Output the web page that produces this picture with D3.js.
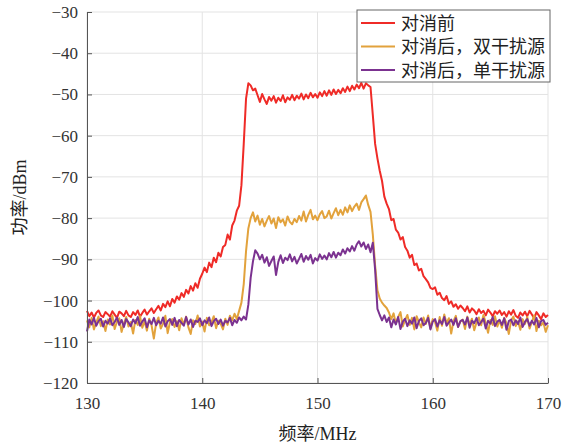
<!DOCTYPE html>
<html>
<head>
<meta charset="utf-8">
<script src="https://cdn.jsdelivr.net/npm/d3@7"></script>
<style>
  body { margin: 0; background: #fff; }
  .tick text { font-family: "Liberation Serif", serif; font-size: 17px; fill: #333; }
</style>
</head>
<body>
<div id="chart"></div>
<script>
// sampling grid of the spectrum (MHz)
var freqStart = 130;
var freqStep = 0.2;

var xTicks = [130, 140, 150, 160, 170];
var yTicks = [-120, -110, -100, -90, -80, -70, -60, -50, -40, -30];

var seriesNames = ["对消前", "对消后，双干扰源", "对消后，单干扰源"];
var seriesColors = ["#ef2b27", "#e2a23c", "#7b3290"];

// 对消前 (dBm)
var before = [
  -102.5, -103.8, -102.9, -104.1, -103.0, -102.4, -103.6, -104.0, -102.8, -103.3,
  -103.9, -102.6, -103.4, -104.2, -102.7, -103.1, -103.8, -102.5, -103.6, -104.0,
  -102.8, -103.5, -102.4, -103.9, -103.0, -102.2, -103.4, -102.6, -101.9, -103.0,
  -102.1, -101.3, -102.4, -100.8, -101.6, -100.2, -101.4, -99.6, -100.5, -99.0,
  -99.8, -98.2, -99.1, -97.4, -98.3, -96.5, -97.6, -95.8, -96.9, -94.7,
  -93.5, -92.0, -93.1, -90.8, -91.9, -89.6, -90.7, -88.4, -89.3, -87.0,
  -86.5, -84.0, -85.2, -81.8, -80.6, -78.2, -77.0, -72.0, -62.0, -51.0,
  -47.3, -47.8, -49.0, -48.6, -50.2, -51.8, -49.9, -51.2, -52.3, -50.6,
  -51.5, -50.4, -52.0, -50.8, -51.6, -50.2, -51.9, -50.7, -51.3, -50.1,
  -51.4, -50.3, -51.0, -49.8, -51.2, -50.0, -50.9, -49.6, -50.7, -49.9,
  -50.8, -49.5, -50.4, -49.2, -50.3, -49.0, -50.1, -48.8, -49.9, -48.9,
  -49.7, -48.5, -49.4, -48.1, -49.2, -47.9, -48.8, -47.6, -48.5, -47.2,
  -48.6, -47.3, -47.8, -48.2, -55.0, -62.0, -65.5, -68.5, -71.0, -74.8,
  -76.5, -77.8, -80.5, -80.2, -82.8, -83.5, -85.2, -84.6, -87.0, -87.9,
  -89.6, -88.9, -91.4, -91.0, -92.7, -92.3, -94.1, -94.8, -95.6, -96.9,
  -97.2, -96.8, -98.6, -98.1, -99.4, -99.9, -98.9, -100.8, -100.2, -101.5,
  -100.9, -102.0, -101.2, -101.8, -102.6, -101.4, -102.9, -101.9, -102.4, -103.3,
  -102.1, -103.0, -102.5, -103.6, -102.2, -102.9, -103.8, -102.6, -103.2, -102.4,
  -103.5, -102.8, -103.9, -102.6, -103.4, -102.3, -103.7, -104.2, -102.9, -103.6,
  -102.7, -103.8, -102.5, -103.4, -104.3, -102.8, -103.6, -104.5, -103.1, -104.0,
  -103.5
];

// 对消后，双干扰源 (dBm)
var afterDual = [
  -104.8, -106.5, -104.2, -107.0, -105.3, -103.9, -106.2, -105.0, -107.4, -104.6,
  -105.8, -103.6, -106.9, -105.1, -104.3, -107.6, -105.5, -104.0, -106.3, -105.2,
  -108.0, -104.7, -105.9, -103.8, -106.6, -105.0, -107.3, -104.4, -106.0, -109.2,
  -105.4, -104.1, -106.8, -105.6, -103.7, -107.9, -105.2, -104.5, -106.4, -105.0,
  -107.2, -104.3, -105.8, -103.9, -106.5, -108.1, -104.8, -105.7, -103.6, -106.3,
  -105.1, -107.5, -104.2, -106.0, -105.3, -103.8, -106.7, -104.9, -105.6, -107.0,
  -104.4, -105.9, -103.7, -104.8, -103.2, -104.5, -102.5, -100.5, -96.0, -88.0,
  -82.5, -80.0, -78.6, -80.8, -79.4, -81.6, -80.2, -82.0, -80.6, -79.5,
  -81.3, -80.1, -82.4, -79.8, -81.0, -80.3, -81.8, -79.6, -80.9, -81.5,
  -80.2, -81.0, -79.5, -80.6, -78.4, -80.8, -79.2, -78.0, -80.3, -79.4,
  -80.5, -79.1, -78.3, -80.0, -79.6, -78.2, -80.1, -78.8, -77.6, -79.3,
  -78.0, -79.2, -77.4, -78.6, -76.9, -78.3, -77.2, -76.5, -78.0, -76.2,
  -75.4, -74.5, -76.8, -78.5, -84.0, -91.5, -97.5, -99.5, -100.5, -101.2,
  -101.8, -102.9, -104.5, -103.1, -105.6, -104.0, -102.8, -106.3, -104.7, -103.5,
  -105.9, -104.2, -107.0, -103.8, -105.3, -106.5, -104.1, -105.7, -103.6, -106.8,
  -104.5, -105.2, -107.3, -104.0, -106.1, -103.4, -105.5, -104.3, -108.0, -105.0,
  -103.7, -106.4, -105.1, -104.6, -106.9, -103.9, -105.8, -104.4, -107.2, -105.3,
  -104.1, -106.0, -103.5, -105.4, -107.8, -104.7, -105.9, -103.8, -106.3, -104.9,
  -106.6, -104.2, -105.5, -108.1, -104.8, -103.9, -106.2, -105.0, -107.1, -104.5,
  -105.7, -104.0, -106.8, -105.2, -103.6, -107.4, -104.9, -106.0, -105.3, -107.6,
  -106.0
];

// 对消后，单干扰源 (dBm)
var afterSingle = [
  -107.5, -104.6, -105.8, -104.2, -106.1, -105.0, -104.4, -106.3, -104.9, -105.6,
  -104.3, -106.0, -105.2, -104.1, -105.9, -104.7, -106.4, -104.5, -105.3, -106.2,
  -104.6, -105.5, -104.0, -106.1, -105.1, -104.3, -106.5, -104.8, -105.7, -104.2,
  -106.0, -104.9, -105.6, -104.1, -106.3, -105.0, -104.5, -105.9, -104.2, -106.2,
  -104.7, -105.4, -106.1, -104.0, -105.8, -104.6, -106.4, -104.9, -105.2, -104.3,
  -106.0, -104.8, -105.5, -104.1, -106.2, -105.0, -104.4, -105.7, -104.6, -106.1,
  -104.9, -105.3, -104.2, -106.0, -104.7, -105.4, -104.1, -104.8, -103.9, -104.6,
  -101.0, -94.5, -90.5, -87.8, -88.6, -90.0, -88.9, -90.8, -89.5, -91.6,
  -90.4, -89.3, -93.8, -90.6, -89.0, -90.9, -89.6, -90.2, -88.8, -90.5,
  -89.4, -91.0, -89.9, -88.7, -90.6, -89.2, -90.1, -88.9, -91.0, -89.7,
  -90.3, -88.8, -89.9, -89.1, -90.0, -88.5, -89.5, -88.2, -89.6, -88.4,
  -89.0, -87.6, -88.6, -87.3, -88.1, -86.8, -87.9, -86.4, -85.6, -86.9,
  -85.9, -87.5, -86.4, -88.3, -86.0, -92.5, -102.0, -103.5, -104.8, -103.6,
  -105.2, -104.1, -106.5, -104.6, -105.8, -104.0, -106.9, -105.1, -104.4, -106.2,
  -104.8, -105.6, -104.1, -106.7, -105.0, -104.3, -106.0, -105.4, -104.2, -107.0,
  -105.1, -104.5, -106.3, -104.8, -105.7, -104.0, -106.1, -105.3, -104.6, -105.9,
  -104.3, -106.4, -105.0, -104.7, -105.8, -104.1, -106.6, -104.9, -105.5, -104.2,
  -106.0, -105.2, -104.4, -106.8, -104.9, -105.6, -104.0, -106.2, -105.1, -104.7,
  -105.9, -104.3, -107.1, -105.0, -104.6, -106.0, -104.8, -105.7, -104.1, -106.4,
  -105.2, -104.5, -106.1, -104.9, -105.8, -104.2, -106.5, -105.0, -104.7, -105.9,
  -105.4
];

var w = 575;
var h = 446;
var m = {top: 12, right: 27, bottom: 63, left: 87};

var svg = d3.select("#chart")
            .append("svg")
            .attr("width", w)
            .attr("height", h);

var xScale = d3.scaleLinear()
               .domain([130, 170])
               .range([m.left, w - m.right]);

var yScale = d3.scaleLinear()
               .domain([-120, -30])
               .range([h - m.bottom, m.top]);

// grid
svg.append("g")
   .selectAll("line")
   .data(xTicks)
   .enter()
   .append("line")
   .attr("x1", function(d) { return xScale(d); })
   .attr("x2", function(d) { return xScale(d); })
   .attr("y1", yScale(-120))
   .attr("y2", yScale(-30))
   .attr("stroke", "#e3e3e3")
   .attr("stroke-width", 1);

svg.append("g")
   .selectAll("line")
   .data(yTicks)
   .enter()
   .append("line")
   .attr("x1", xScale(130))
   .attr("x2", xScale(170))
   .attr("y1", function(d) { return yScale(d); })
   .attr("y2", function(d) { return yScale(d); })
   .attr("stroke", "#e3e3e3")
   .attr("stroke-width", 1);

// curves
var line = d3.line()
             .x(function(d, i) { return xScale(freqStart + i * freqStep); })
             .y(function(d) { return yScale(d); });

var allSeries = [before, afterDual, afterSingle];

svg.append("g")
   .selectAll("path")
   .data(allSeries)
   .enter()
   .append("path")
   .attr("d", line)
   .attr("fill", "none")
   .attr("stroke", function(d, i) { return seriesColors[i]; })
   .attr("stroke-width", 2)
   .attr("stroke-linejoin", "round");

// axes
var xAxis = d3.axisBottom(xScale)
              .tickValues(xTicks)
              .tickSizeInner(-5)
              .tickSizeOuter(0)
              .tickPadding(14)
              .tickFormat(d3.format("d"));

svg.append("g")
   .attr("class", "x-axis")
   .attr("transform", "translate(0," + (h - m.bottom) + ")")
   .call(xAxis);

var yAxis = d3.axisLeft(yScale)
              .tickValues(yTicks)
              .tickSizeInner(-5)
              .tickSizeOuter(0)
              .tickPadding(9)
              .tickFormat(d3.format("d"));

svg.append("g")
   .attr("class", "y-axis")
   .attr("transform", "translate(" + m.left + ",0)")
   .call(yAxis);

svg.selectAll(".x-axis path, .y-axis path, .tick line")
   .attr("stroke", "#555");

// axis labels
svg.append("text")
   .attr("x", (xScale(130) + xScale(170)) / 2)
   .attr("y", 440)
   .attr("text-anchor", "middle")
   .style("font-family", "'Liberation Serif', 'Noto Sans CJK SC', serif")
   .style("font-size", "18px")
   .attr("fill", "#222")
   .text("频率/MHz");

svg.append("text")
   .attr("transform", "translate(26," + yScale(-75) + ") rotate(-90)")
   .attr("text-anchor", "middle")
   .style("font-family", "'Liberation Serif', 'Noto Sans CJK SC', serif")
   .style("font-size", "18px")
   .attr("fill", "#222")
   .text("功率/dBm");

// legend
var legend = svg.append("g")
                .attr("transform", "translate(357,10)");

legend.append("rect")
      .attr("width", 193)
      .attr("height", 72)
      .attr("fill", "#fff")
      .attr("stroke", "#666")
      .attr("stroke-width", 1);

var items = legend.selectAll("g")
                  .data(seriesNames)
                  .enter()
                  .append("g")
                  .attr("transform", function(d, i) { return "translate(0," + (13 + i * 23.5) + ")"; });

items.append("line")
     .attr("x1", 4)
     .attr("x2", 38)
     .attr("stroke", function(d, i) { return seriesColors[i]; })
     .attr("stroke-width", 2);

items.append("text")
     .attr("x", 44)
     .attr("y", 6.5)
     .style("font-family", "'Noto Sans CJK SC', sans-serif")
     .style("font-size", "18px")
     .attr("fill", "#222")
     .text(function(d) { return d; });
</script>
</body>
</html>
